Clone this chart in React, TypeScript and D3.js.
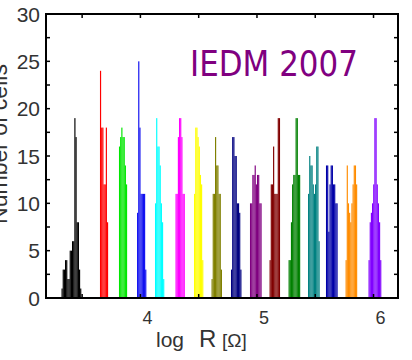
import React, { useRef, useEffect } from 'react';
import * as d3 from 'd3';

// histogram bins of log R, bin width 0.01 decade
const binWidth = 0.01;
const clusterStarts = [3.323, 3.653, 3.816, 3.971, 4.125, 4.301, 4.46, 4.61, 4.777, 4.94, 5.108, 5.271, 5.438, 5.592, 5.76, 5.957];
const clusterCounts = [
	[1, 3, 3, 4, 4, 2, 2, 5, 5, 6, 6, 19, 17, 8, 8, 3, 1],
	[24, 18, 18, 12, 12, 18, 8],
	[16, 17, 18, 17, 17, 14, 12],
	[9, 25, 18, 11, 11, 11, 11, 3],
	[10, 19, 16, 16, 14, 10, 8, 2],
	[11, 11, 17, 19, 19, 17, 11, 11],
	[11, 18, 18, 17, 16, 13, 12, 4],
	[2, 11, 11, 17, 14, 14, 11, 11, 3],
	[3, 17, 17, 15, 15, 10, 10, 9, 3],
	[10, 10, 13, 13, 14, 12, 13, 13, 10, 10],
	[4, 12, 12, 16, 11, 11, 11, 19, 19],
	[4, 4, 8, 12, 13, 13, 19, 19, 13, 13],
	[11, 15, 14, 14, 12, 11, 12, 16, 16, 6],
	[14, 14, 7, 12, 14, 14, 12, 12, 10, 10],
	[4, 14, 10, 9, 8, 10, 12, 14, 14, 12],
	[4, 8, 9, 10, 12, 19, 19, 12, 10, 8, 4],
];
const clusterColors = ['#000000', '#ff0000', '#00e600', '#1010f0', '#00ffff', '#ff00ff', '#ffff00', '#808000',
	'#000080', '#800080', '#800000', '#008000', '#008080', '#0000a8', '#ff8c00', '#8000ff'];

const xTicks = [3.5, 4, 4.5, 5, 5.5, 6];
const xTickLabels = [4, 5, 6];
const yTicks = [0, 2.5, 5, 7.5, 10, 12.5, 15, 17.5, 20, 22.5, 25, 27.5, 30];
const yTickLabels = [0, 5, 10, 15, 20, 25, 30];

const width = 412;
const height = 360;
const marginLeft = 46;
const marginRight = 14;
const marginTop = 14;
const marginBottom = 62;

const App: React.FC = () => {
	const svgRef = useRef<SVGSVGElement | null>(null);

	useEffect(() => {
		if (!svgRef.current) return;
		const svg = d3.select(svgRef.current);
		svg.selectAll('*').remove();

		const x = d3.scaleLinear().domain([3.19, 6.21]).range([marginLeft, width - marginRight]);
		const y = d3.scaleLinear().domain([0, 30]).range([height - marginBottom, marginTop]);

		svg.append('rect').attr('width', width).attr('height', height).attr('fill', '#fff');

		// bars
		clusterCounts.forEach((counts, ci) => {
			const g = svg.append('g').attr('fill', clusterColors[ci]);
			g.selectAll('rect')
				.data(counts)
				.enter().append('rect')
				.attr('x', (_, i) => x(clusterStarts[ci] + i * binWidth))
				.attr('width', (_, i) => x(clusterStarts[ci] + (i + 1) * binWidth) - x(clusterStarts[ci] + i * binWidth))
				.attr('y', d => y(d))
				.attr('height', d => y(0) - y(d));
		});

		const [x0, x1] = x.range();
		const [y0, y1] = y.range();

		// inward ticks
		const ticks = svg.append('g').attr('stroke', '#000').attr('stroke-width', 1.5);
		xTicks.forEach(t => {
			ticks.append('line').attr('x1', x(t)).attr('x2', x(t)).attr('y1', y1).attr('y2', y1 + 4);
			ticks.append('line').attr('x1', x(t)).attr('x2', x(t)).attr('y1', y0).attr('y2', y0 - 4);
		});
		yTicks.forEach(t => {
			ticks.append('line').attr('x1', x0).attr('x2', x0 + 4).attr('y1', y(t)).attr('y2', y(t));
			ticks.append('line').attr('x1', x1).attr('x2', x1 - 4).attr('y1', y(t)).attr('y2', y(t));
		});

		// box
		svg.append('rect')
			.attr('x', x0).attr('y', y1)
			.attr('width', x1 - x0).attr('height', y0 - y1)
			.attr('fill', 'none').attr('stroke', '#000').attr('stroke-width', 2);

		// tick labels
		svg.append('g')
			.selectAll('text')
			.data(yTickLabels)
			.enter().append('text')
			.attr('x', x0 - 6)
			.attr('y', d => y(d))
			.attr('dy', '0.36em')
			.attr('text-anchor', 'end')
			.attr('font-family', 'Liberation Sans, Arial, sans-serif')
			.attr('font-size', 21)
			.attr('fill', '#333')
			.text(d => d);

		svg.append('g')
			.selectAll('text')
			.data(xTickLabels)
			.enter().append('text')
			.attr('x', d => x(d) + 7)
			.attr('y', 324)
			.attr('text-anchor', 'middle')
			.attr('font-family', 'Liberation Sans, Arial, sans-serif')
			.attr('font-size', 18)
			.attr('fill', '#333')
			.text(d => d);

		// axis titles
		svg.append('text')
			.attr('transform', 'translate(7,144) rotate(-90)')
			.attr('text-anchor', 'middle')
			.attr('font-family', 'Liberation Sans, Arial, sans-serif')
			.attr('font-size', 23)
			.attr('fill', '#333')
			.text('Number of cells');

		const xt = svg.append('text')
			.attr('y', 347)
			.attr('font-family', 'Liberation Sans, Arial, sans-serif')
			.attr('fill', '#333');
		xt.append('tspan').attr('x', 156).attr('font-size', 21).text('log');
		xt.append('tspan').attr('x', 199).attr('font-size', 24).text('R');
		xt.append('tspan').attr('x', 222).attr('font-size', 19).text('[Ω]');

		svg.append('text')
			.attr('x', 190)
			.attr('y', 76)
			.attr('font-family', 'DejaVu Sans, sans-serif')
			.attr('font-size', 35)
			.attr('textLength', 168)
			.attr('lengthAdjust', 'spacingAndGlyphs')
			.attr('fill', '#800080')
			.text('IEDM 2007');
	}, []);

	return <svg ref={svgRef} width={width} height={height} style={{ position: 'absolute', left: 0, top: 0 }} />;
};

export default App;
